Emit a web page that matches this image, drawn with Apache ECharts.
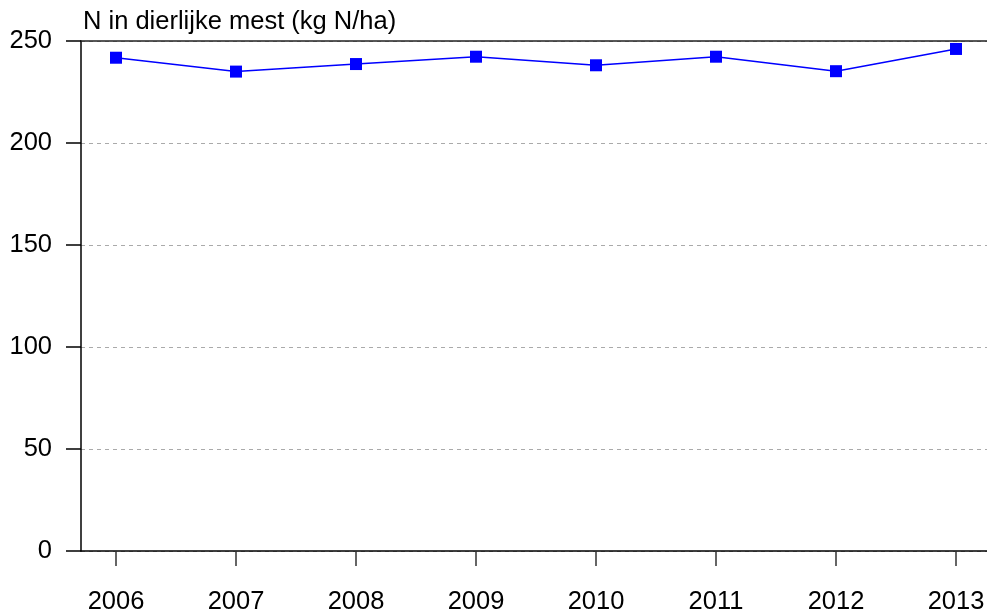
<!DOCTYPE html>
<html><head><meta charset="utf-8">
<script src="https://cdn.jsdelivr.net/npm/echarts@6/dist/echarts.min.js"></script>
<style>html,body{margin:0;padding:0;background:#fff}#c{width:987px;height:609px}</style>
</head><body><div id="c"></div>
<script>
const years = [2006, 2007, 2008, 2009, 2010, 2011, 2012, 2013];
const values = [241.8, 235.0, 238.7, 242.3, 238.1, 242.3, 235.2, 246.1];
const yTicks = [0, 50, 100, 150, 200, 250];
const title = 'N in dierlijke mest (kg N/ha)';

const font = 'Liberation Sans, Arial, sans-serif';
const chart = echarts.init(document.getElementById('c'), null, {renderer: 'canvas'});
chart.setOption({
  animation: false,
  title: {text: title, left: 78, top: 4, textStyle: {fontFamily: font, fontSize: 25.5, fontWeight: 'normal', color: '#000'}},
  grid: {left: 81, right: 0, top: 41, bottom: 58, containLabel: false, outerBoundsMode: 'none'},
  xAxis: [{
    type: 'value', min: 2006 - 35/120, max: 2013 + 31/120,
    axisLine: {show: true, lineStyle: {color: '#000', width: 1.5}},
    axisTick: {show: true, length: 15, lineStyle: {color: '#333', width: 1.5}, customValues: years},
    axisLabel: {margin: 38, fontFamily: font, fontSize: 25.5, color: '#000', customValues: years, formatter: v => String(v)},
    splitLine: {show: false}
  }, {
    type: 'value', position: 'top', min: 0, max: 1,
    axisLine: {show: true, onZero: false, lineStyle: {color: '#222', width: 1.5}},
    axisTick: {show: false}, axisLabel: {show: false}, splitLine: {show: false}
  }],
  yAxis: {
    type: 'value', min: 0, max: 250, interval: 50,
    axisLine: {show: true, lineStyle: {color: '#000', width: 1.5}},
    axisTick: {show: true, length: 15, lineStyle: {color: '#000', width: 1.5}},
    axisLabel: {margin: 29, fontFamily: font, fontSize: 25.5, color: '#000'},
    splitLine: {show: true, lineStyle: {color: '#aaa', type: [4, 4], width: 1}}
  },
  series: [{
    type: 'line', xAxisIndex: 0,
    data: years.map((y, i) => [y, values[i]]),
    symbol: 'rect', symbolSize: 12,
    itemStyle: {color: '#0000ff'},
    lineStyle: {color: '#0000ff', width: 1.5}
  }]
});
</script></body></html>
